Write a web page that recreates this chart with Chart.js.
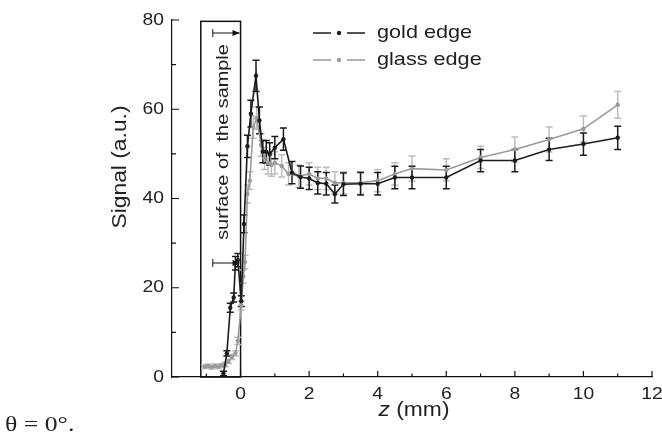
<!DOCTYPE html>
<html>
<head>
<meta charset="utf-8">
<script src="https://cdn.jsdelivr.net/npm/chart.js@4.4.1/dist/chart.umd.min.js"></script>
<style>
  html, body { margin: 0; padding: 0; background: #fff; }
  #wrap { width: 662px; height: 441px; position: relative; }
</style>
</head>
<body>
<div id="wrap"><canvas id="signalChart" width="662" height="441"></canvas></div>
<script>
// gold edge (black)
const goldZ = [-0.5, -0.4, -0.3, -0.2, -0.15, -0.08, 0.02, 0.1, 0.2, 0.3, 0.45, 0.55, 0.65, 0.75, 0.85, 1.0,
  1.25, 1.5, 1.75, 2.0, 2.25, 2.5, 2.75, 3.0, 3.5, 4.0, 4.5, 5.0, 6.0, 7.0, 8.0, 9.0, 10.0, 11.0];
const goldSignal = [0.8, 5.3, 15.5, 17.8, 25.5, 26.2, 17, 34.3, 51.7, 59, 67.5, 57.5, 50.5, 50.5, 50, 51.4,
  53.3, 45.8, 44.8, 44.5, 43.5, 43.3, 41, 43.2, 43.3, 43.3, 44.7, 44.7, 44.7, 48.5, 48.5, 51, 52.2, 53.6];
const goldErr = [0.5, 0.6, 1, 1, 1.5, 1.5, 1.2, 2, 2.5, 3, 3.5, 3, 2.5, 2.5, 2.5, 2.5,
  2.5, 2.5, 2.5, 2.5, 2.5, 2.5, 2, 2.5, 2.5, 2.5, 2.5, 2.5, 2.5, 2.5, 2.5, 2.5, 2.5, 2.6];

// glass edge (grey)
const glassZ = [-1.05, -0.95, -0.85, -0.75, -0.65, -0.55, -0.45, -0.35, -0.25, -0.15, -0.08, 0.02, 0.08, 0.13,
  0.2, 0.27, 0.37, 0.47, 0.6, 0.7, 0.8, 0.9, 1.0, 1.2, 1.4, 1.7, 2.0, 2.25, 2.5, 2.75, 3.0, 3.5, 4.0, 4.5,
  5.0, 6.0, 7.0, 8.0, 9.0, 10.0, 11.0];
const glassSignal = [2.3, 2.5, 2.2, 2.5, 2.3, 2.6, 2.8, 3.5, 4.5, 5.3, 8.1, 16, 22.5, 25.8,
  41, 44, 56, 58, 52, 49, 48, 47.5, 48, 47.3, 45.5, 45, 45.5, 44.5, 44.5, 43.5, 43.5, 43.5, 44, 45.5,
  46.7, 46.4, 49.2, 51, 53.2, 55.6, 61];
const glassErr = [0.4, 0.4, 0.4, 0.4, 0.4, 0.4, 0.5, 0.5, 0.6, 0.6, 0.8, 1, 1.5, 1.5,
  2, 2, 2.5, 2.5, 2.5, 2.5, 2.5, 2.5, 2.5, 2.5, 2.5, 2.5, 2.5, 2.5, 2.5, 2.5, 2.5, 2.5, 2.5, 2.5,
  2.8, 2.5, 2.5, 2.8, 2.8, 2.9, 3];

const xTicks = [0, 2, 4, 6, 8, 10, 12];
const xMinorTicks = [-1, 1, 3, 5, 7, 9, 11];
const yTicks = [0, 20, 40, 60, 80];
const yMinorTicks = [10, 30, 50, 70];

const GOLD = '#1c1c1c';
const GLASS = '#9a9a9a';
const SANS = '"Liberation Sans", Arial, sans-serif';
const STRETCH = 1.17;  // reference text is a bit wider than Arial

function toPoints(xs, ys) {
  return xs.map((x, i) => ({ x: x, y: ys[i] }));
}

// text drawn slightly stretched horizontally
function drawText(ctx, text, x, y, font, align, rotate) {
  ctx.save();
  ctx.translate(x, y);
  if (rotate) ctx.rotate(rotate);
  ctx.scale(STRETCH, 1);
  ctx.font = font;
  ctx.fillStyle = '#222';
  ctx.textAlign = align || 'center';
  ctx.textBaseline = 'middle';
  ctx.fillText(text, 0, 0);
  ctx.restore();
}

const errorBars = {
  id: 'errorBars',
  beforeDatasetsDraw(chart) {
    const ctx = chart.ctx;
    const ys = chart.scales.y;
    const sets = [
      { idx: 1, err: glassErr, color: '#bdbdbd' },
      { idx: 0, err: goldErr, color: GOLD }
    ];
    ctx.save();
    sets.forEach(s => {
      const meta = chart.getDatasetMeta(s.idx);
      const data = chart.data.datasets[s.idx].data;
      ctx.strokeStyle = s.color;
      ctx.lineWidth = 1.5;
      meta.data.forEach((pt, i) => {
        const top = ys.getPixelForValue(data[i].y + s.err[i]);
        const bot = ys.getPixelForValue(data[i].y - s.err[i]);
        ctx.beginPath();
        ctx.moveTo(pt.x, top); ctx.lineTo(pt.x, bot);
        ctx.moveTo(pt.x - 3.5, top); ctx.lineTo(pt.x + 3.5, top);
        ctx.moveTo(pt.x - 3.5, bot); ctx.lineTo(pt.x + 3.5, bot);
        ctx.stroke();
      });
    });
    ctx.restore();
  }
};

const surfaceBox = {
  id: 'surfaceBox',
  beforeDatasetsDraw(chart) {
    const ctx = chart.ctx;
    const xs = chart.scales.x, ys = chart.scales.y;
    const left = xs.getPixelForValue(-1.16);
    const right = xs.getPixelForValue(0);
    const top = ys.getPixelForValue(79.7);
    const bottom = ys.getPixelForValue(0);
    ctx.save();
    ctx.strokeStyle = '#111';
    ctx.lineWidth = 1.5;
    ctx.strokeRect(left, top, right - left, bottom - top);

    // arrows pointing at the surface
    ctx.lineWidth = 1;
    [33, 263].forEach(y => {
      const x0 = left + 12;
      ctx.beginPath();
      ctx.moveTo(x0, y - 4); ctx.lineTo(x0, y + 4);
      ctx.moveTo(x0, y); ctx.lineTo(right - 1, y);
      ctx.stroke();
      ctx.beginPath();
      ctx.moveTo(right - 1, y);
      ctx.lineTo(right - 8, y - 3);
      ctx.lineTo(right - 8, y + 3);
      ctx.closePath();
      ctx.fillStyle = '#111';
      ctx.fill();
    });
    ctx.restore();
    drawText(ctx, 'surface of  the sample', left + 23, 142, '17px ' + SANS, 'center', -Math.PI / 2);
  }
};

const axesDecor = {
  id: 'axesDecor',
  afterDraw(chart) {
    const ctx = chart.ctx;
    const xs = chart.scales.x, ys = chart.scales.y;
    const area = chart.chartArea;
    ctx.save();
    ctx.strokeStyle = '#111';
    ctx.lineWidth = 1.2;
    ctx.beginPath();
    xTicks.forEach(v => {
      const px = xs.getPixelForValue(v);
      ctx.moveTo(px, area.bottom); ctx.lineTo(px, area.bottom - 6);
    });
    xMinorTicks.forEach(v => {
      const px = xs.getPixelForValue(v);
      ctx.moveTo(px, area.bottom); ctx.lineTo(px, area.bottom - 3.5);
    });
    yTicks.forEach(v => {
      const py = ys.getPixelForValue(v);
      ctx.moveTo(area.left, py); ctx.lineTo(area.left + 7, py);
    });
    yMinorTicks.forEach(v => {
      const py = ys.getPixelForValue(v);
      ctx.moveTo(area.left, py); ctx.lineTo(area.left + 4, py);
    });
    ctx.stroke();
    ctx.restore();

    xTicks.forEach(v => {
      drawText(ctx, String(v), xs.getPixelForValue(v), area.bottom + 17, '16.5px ' + SANS, 'center');
    });
    yTicks.forEach(v => {
      const py = ys.getPixelForValue(v);
      ctx.save();
      ctx.font = '16.5px ' + SANS;
      const w = ctx.measureText(String(v)).width * STRETCH;
      ctx.restore();
      drawText(ctx, String(v), area.left - 8 - w / 2, py, '16.5px ' + SANS, 'center');
    });

    // axis titles
    drawText(ctx, 'Signal (a.u.)', 121, 167, '19.5px ' + SANS, 'center', -Math.PI / 2);
    ctx.save();
    ctx.font = 'italic 19.5px ' + SANS;
    const zw = ctx.measureText('z').width * STRETCH;
    ctx.font = '19.5px ' + SANS;
    const rw = ctx.measureText(' (mm)').width * STRETCH;
    ctx.restore();
    const tx = 414 - (zw + rw) / 2;
    drawText(ctx, 'z', tx + zw / 2, 411, 'italic 19.5px ' + SANS, 'center');
    drawText(ctx, ' (mm)', tx + zw + rw / 2, 411, '19.5px ' + SANS, 'center');

    // legend
    const legend = [
      { label: 'gold edge', color: GOLD, y: 33 },
      { label: 'glass edge', color: GLASS, y: 60 }
    ];
    legend.forEach(l => {
      ctx.save();
      ctx.strokeStyle = l.color;
      ctx.fillStyle = l.color;
      ctx.lineWidth = 1.6;
      ctx.beginPath();
      ctx.moveTo(313, l.y); ctx.lineTo(331, l.y);
      ctx.moveTo(347, l.y); ctx.lineTo(365, l.y);
      ctx.stroke();
      ctx.beginPath();
      ctx.arc(339, l.y, 2.2, 0, Math.PI * 2);
      ctx.fill();
      ctx.restore();
      ctx.save();
      ctx.font = '18.5px ' + SANS;
      const w = ctx.measureText(l.label).width * STRETCH;
      ctx.restore();
      drawText(ctx, l.label, 377 + w / 2, l.y, '18.5px ' + SANS, 'center');
    });

    // caption
    ctx.save();
    ctx.font = '22px "Liberation Serif", "Times New Roman", serif';
    const cw = ctx.measureText('θ = 0°.').width * STRETCH;
    ctx.restore();
    drawText(ctx, 'θ = 0°.', 5 + cw / 2, 425, '22px "Liberation Serif", "Times New Roman", serif', 'center');
  }
};

const ctx = document.getElementById('signalChart').getContext('2d');

const chart = new Chart(ctx, {
  type: 'scatter',
  data: {
    datasets: [{
      label: 'gold edge',
      data: toPoints(goldZ, goldSignal),
      showLine: true,
      borderColor: GOLD,
      backgroundColor: GOLD,
      borderWidth: 1.6,
      pointRadius: 2.2,
      pointBorderWidth: 0,
      tension: 0
    }, {
      label: 'glass edge',
      data: toPoints(glassZ, glassSignal),
      showLine: true,
      borderColor: GLASS,
      backgroundColor: GLASS,
      borderWidth: 1.6,
      pointRadius: 2.2,
      pointBorderWidth: 0,
      tension: 0
    }]
  },
  options: {
    responsive: false,
    animation: false,
    layout: { padding: { top: 20, right: 10, left: 0, bottom: 0 } },
    plugins: {
      legend: { display: false },
      tooltip: { enabled: false }
    },
    scales: {
      x: {
        type: 'linear',
        min: -2,
        max: 12,
        grid: { display: false },
        border: { display: true, color: '#111', width: 1.2 },
        ticks: { display: false },
        afterFit: (scale) => { scale.height = 64; }
      },
      y: {
        min: 0,
        max: 80,
        grid: { display: false },
        border: { display: true, color: '#111', width: 1.2 },
        ticks: { display: false },
        afterFit: (scale) => { scale.width = 172; }
      }
    }
  },
  plugins: [surfaceBox, errorBars, axesDecor]
});
</script>
</body>
</html>
